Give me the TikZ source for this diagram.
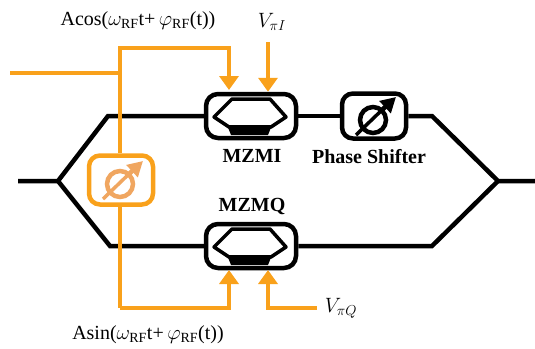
\documentclass[tikz,border=0pt]{standalone}
\usepackage{fontspec}
\setmainfont{Liberation Serif}
\usetikzlibrary{arrows.meta}
\definecolor{rfline}{HTML}{F9A11B}
\definecolor{rficon}{HTML}{F0A660}
\tikzset{
  wire/.style={line width=4.5pt,black,line join=miter},
  rf/.style={line width=4.5pt,rfline},
  rfarrow/.style={rf,-{Triangle[width=19pt,length=14pt]}},
  modbox/.style={draw,line width=4.5pt,rounded corners=12pt,minimum width=90pt,minimum height=44pt,inner sep=0pt},
  shiftbox/.style={draw,line width=4.5pt,rounded corners=11pt,minimum width=64pt,minimum height=45pt,inner sep=0pt},
  boxlabel/.style={font=\bfseries\fontsize{20}{20}\selectfont,inner sep=0pt},
  siglabel/.style={font=\fontsize{20}{20}\selectfont,inner sep=0pt},
  pics/mzm/.style={code={
    \draw[line width=3.5pt,line join=round] (-37,1) -- (-19,-17) -- (19,-17) -- (35,1) -- (20,11) -- (-22,11) -- cycle;
    \fill[line join=round] (-24,9) -- (21,9) -- (17,19) -- (-20,19) -- cycle;
  }},
  pics/phaseicon/.style={code={
    \draw[line width=4.5pt] (-1,4) circle (13);
    \draw[line width=3.5pt] (-18,19) -- (10,-8);
    \draw[line width=4.5pt,-{Triangle[width=16pt,length=15pt]}] (8,-6) -- (22,-19);
  }}
}
\begin{document}
\begin{tikzpicture}[x=1pt,y=-1pt]
\useasboundingbox (0,0) rectangle (535,348);
\node[modbox] (MZMI) at (251,116) {};
\node[shiftbox] (PS) at (374,116) {};
\node[modbox] (MZMQ) at (251,246) {};
\node[shiftbox,draw=rfline,minimum height=49pt] (RFPS) at (121,180) {};
\coordinate (IN) at (18,181);
\coordinate (SPLIT) at (58,181);
\coordinate (UP) at (108,116);
\coordinate (LOW) at (110,246);
\coordinate (UPR) at (432,116);
\coordinate (LOWR) at (432,246);
\coordinate (JOIN) at (498,181);
\coordinate (OUT) at (535,181);
\coordinate (RFIN) at (10,73);
\coordinate (RFT) at (120,48);
\coordinate (RFM) at (120,73);
\coordinate (RFB) at (120,308);
\coordinate (VI) at (268,42);
\coordinate (VQ) at (317,308);
\draw[wire] (IN) -- (SPLIT) -- (UP) -- (MZMI.west);
\draw[wire] (SPLIT) -- (LOW) -- (MZMQ.west);
\draw[wire] (MZMI.east) -- (PS.west);
\draw[wire] (PS.east) -- (UPR) -- (JOIN) -- (OUT);
\draw[wire] (MZMQ.east) -- (LOWR) -- (JOIN);
\draw[rf] (RFIN) -- (RFM);
\draw[rf] (RFM) -- (RFPS.north -| RFM);
\draw[rfarrow] (RFM) -- (RFT) -- (229,48) -- (229,90);
\draw[rfarrow] (VI) -- (VI |- MZMI.north);
\draw[rf] (RFPS.south -| RFB) -- (RFB);
\draw[rfarrow] (RFB) -- (229,308) -- (229,270);
\draw[rfarrow] (VQ) -- (268,308) -- (268,270);
\pic at (251,116) {mzm};
\pic at (251,246) {mzm};
\pic at (PS.center) {phaseicon};
\pic[color=rficon] at (RFPS.center) {phaseicon};
\node[boxlabel] (MZMIlabel) at (252,156) {MZMI};
\node[boxlabel] (PSlabel) at (369,157) {Phase Shifter};
\node[boxlabel] (MZMQlabel) at (252,206) {MZMQ};
\node[siglabel] (cosl) at (138,21) {Acos($\omega_{\mathrm{RF}}$t+$\,\varphi_{\mathrm{RF}}$(t))};
\node[siglabel] (sinl) at (148,335) {Asin($\omega_{\mathrm{RF}}$t+$\,\varphi_{\mathrm{RF}}$(t))};
\node[siglabel] (vil) at (272,22) {$V_{\pi I}$};
\node[siglabel] (vql) at (341,308) {$V_{\pi Q}$};
\end{tikzpicture}
\end{document}
